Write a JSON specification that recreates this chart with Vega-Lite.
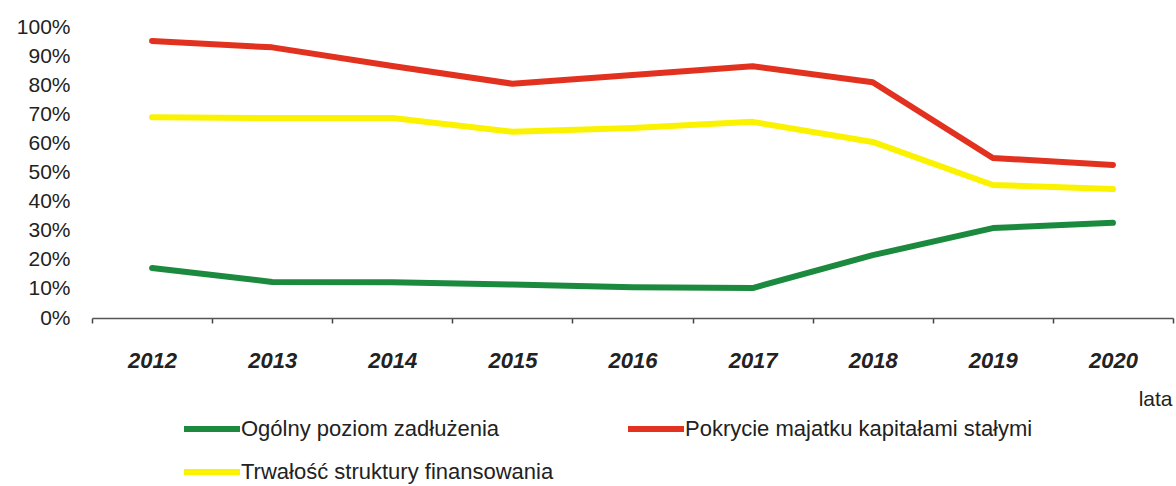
{
  "$schema": "https://vega.github.io/schema/vega-lite/v6.json",
  "autosize": {"type": "none"},
  "width": 1081,
  "height": 291,
  "padding": {"left": 92, "top": 27, "right": 3, "bottom": 168},
  "background": "white",
  "config": {"view": {"stroke": null}, "font": "Liberation Sans"},
  "data": {"values": [
    {"rok": "2012", "seria": "Ogólny poziom zadłużenia", "v": 0.172},
    {"rok": "2013", "seria": "Ogólny poziom zadłużenia", "v": 0.124},
    {"rok": "2014", "seria": "Ogólny poziom zadłużenia", "v": 0.123},
    {"rok": "2015", "seria": "Ogólny poziom zadłużenia", "v": 0.115},
    {"rok": "2016", "seria": "Ogólny poziom zadłużenia", "v": 0.106},
    {"rok": "2017", "seria": "Ogólny poziom zadłużenia", "v": 0.103},
    {"rok": "2018", "seria": "Ogólny poziom zadłużenia", "v": 0.216},
    {"rok": "2019", "seria": "Ogólny poziom zadłużenia", "v": 0.309},
    {"rok": "2020", "seria": "Ogólny poziom zadłużenia", "v": 0.327},
    {"rok": "2012", "seria": "Pokrycie majatku kapitałami stałymi", "v": 0.952},
    {"rok": "2013", "seria": "Pokrycie majatku kapitałami stałymi", "v": 0.93},
    {"rok": "2014", "seria": "Pokrycie majatku kapitałami stałymi", "v": 0.866},
    {"rok": "2015", "seria": "Pokrycie majatku kapitałami stałymi", "v": 0.805},
    {"rok": "2016", "seria": "Pokrycie majatku kapitałami stałymi", "v": 0.835},
    {"rok": "2017", "seria": "Pokrycie majatku kapitałami stałymi", "v": 0.865},
    {"rok": "2018", "seria": "Pokrycie majatku kapitałami stałymi", "v": 0.81},
    {"rok": "2019", "seria": "Pokrycie majatku kapitałami stałymi", "v": 0.55},
    {"rok": "2020", "seria": "Pokrycie majatku kapitałami stałymi", "v": 0.526},
    {"rok": "2012", "seria": "Trwałość struktury finansowania", "v": 0.69},
    {"rok": "2013", "seria": "Trwałość struktury finansowania", "v": 0.687},
    {"rok": "2014", "seria": "Trwałość struktury finansowania", "v": 0.687},
    {"rok": "2015", "seria": "Trwałość struktury finansowania", "v": 0.64},
    {"rok": "2016", "seria": "Trwałość struktury finansowania", "v": 0.653},
    {"rok": "2017", "seria": "Trwałość struktury finansowania", "v": 0.674},
    {"rok": "2018", "seria": "Trwałość struktury finansowania", "v": 0.605},
    {"rok": "2019", "seria": "Trwałość struktury finansowania", "v": 0.457},
    {"rok": "2020", "seria": "Trwałość struktury finansowania", "v": 0.443}
  ]},
  "mark": {"type": "line", "strokeWidth": 6, "strokeCap": "round", "strokeJoin": "round"},
  "encoding": {
    "x": {
      "field": "rok", "type": "ordinal", "bandPosition": 0.5,
      "scale": {"type": "band", "paddingInner": 0, "paddingOuter": 0},
      "axis": {
        "title": "lata", "titleFont": "Liberation Sans", "titleFontSize": 21, "titleFontWeight": "normal",
        "titleColor": "#222", "titleAnchor": "end", "titleAlign": "right", "titleX": 1080, "titleY": 70,
        "tickBand": "extent", "labelAngle": 0, "labelFont": "Liberation Sans", "labelFontSize": 22,
        "labelFontWeight": "bold", "labelFontStyle": "italic", "labelColor": "#222", "labelPadding": 27,
        "domainColor": "#555", "domainWidth": 1.5, "tickColor": "#444", "tickSize": 5, "tickWidth": 1.5,
        "grid": false
      }
    },
    "y": {
      "field": "v", "type": "quantitative",
      "scale": {"domain": [0, 1], "nice": false},
      "axis": {
        "title": null, "format": ".0%", "values": [0, 0.1, 0.2, 0.3, 0.4, 0.5, 0.6, 0.7, 0.8, 0.9, 1],
        "domain": false, "ticks": false, "grid": false, "labelPadding": 22,
        "labelFont": "Liberation Sans", "labelFontSize": 21, "labelColor": "#222"
      }
    },
    "color": {
      "field": "seria", "type": "nominal",
      "scale": {"domain": ["Ogólny poziom zadłużenia", "Pokrycie majatku kapitałami stałymi", "Trwałość struktury finansowania"],
                "range": ["#1b8a3e", "#e2321f", "#fbf200"]},
      "legend": {
        "title": null, "orient": "none", "legendX": 97, "legendY": 379, "direction": "horizontal", "columns": 2,
        "symbolType": "M-1.4,0H1.4", "symbolSize": 1600, "symbolStrokeWidth": 6, "labelOffset": 6,
        "labelFont": "Liberation Sans", "labelFontSize": 22, "labelColor": "#222", "columnPadding": 62,
        "rowPadding": 8, "labelLimit": 500
      }
    }
  }
}
